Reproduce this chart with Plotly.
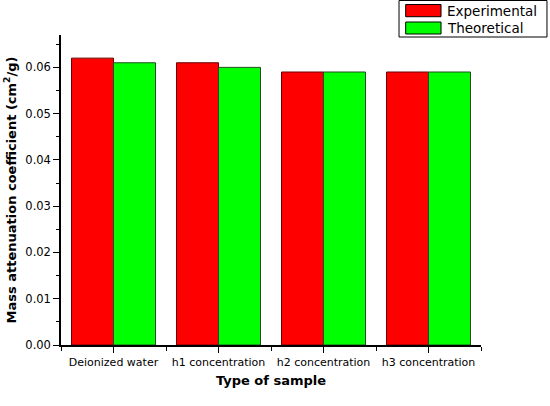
import plotly.graph_objects as go

categories = ["Deionized water", "h1 concentration", "h2 concentration", "h3 concentration"]
experimental = [0.062, 0.061, 0.059, 0.059]
theoretical = [0.061, 0.060, 0.059, 0.059]
series_names = ["Experimental", "Theoretical"]
series_colors = ["#ff0000", "#00ff00"]
series_edges = ["#6a0000", "#1f4f1f"]
y_ticks = [0.00, 0.01, 0.02, 0.03, 0.04, 0.05, 0.06]
y_labels = ["0.00", "0.01", "0.02", "0.03", "0.04", "0.05", "0.06"]

xpos = list(range(len(categories)))
boundaries = [i - 0.5 for i in range(len(categories) + 1)]

fig = go.Figure()
for name, vals, col, edge in zip(series_names, [experimental, theoretical], series_colors, series_edges):
    fig.add_trace(go.Bar(x=xpos, y=vals, name=name, showlegend=False,
                         marker=dict(color=col, line=dict(color=edge, width=1))))

font_family = "DejaVu Sans"

# Manual legend (box with wide swatches), in paper coordinates
shapes = [dict(type="rect", xref="paper", yref="paper", x0=0.8048, x1=1.1571, y0=0.9935, y1=1.1113,
               line=dict(color="black", width=1), fillcolor="white", layer="above")]
annotations = []
sw_rows = [(1.0984, 1.0590, 1.0790), (1.0419, 1.0032, 1.0226)]
for (ytop, ybot, ytxt), name, col in zip(sw_rows, series_names, series_colors):
    shapes.append(dict(type="rect", xref="paper", yref="paper", x0=0.8207, x1=0.9048, y0=ybot, y1=ytop,
                       line=dict(color="black", width=1), fillcolor=col, layer="above"))
    annotations.append(dict(xref="paper", yref="paper", x=0.9145, y=ytxt, xanchor="left", yanchor="middle",
                            text=name, showarrow=False, font=dict(size=13.5, family=font_family, color="black")))

fig.update_layout(
    width=550, height=406,
    margin=dict(l=61, r=69, t=35, b=61, autoexpand=False),
    paper_bgcolor="white", plot_bgcolor="white",
    barmode="group", bargap=0.2, bargroupgap=0,
    font=dict(family=font_family, size=11, color="black"),
    showlegend=False,
    shapes=shapes, annotations=annotations,
    xaxis=dict(
        range=[-0.5, 3.5], tickmode="array", tickvals=xpos, ticktext=categories,
        showline=True, linecolor="black", linewidth=1.5, showgrid=False, zeroline=False,
        ticks="outside", ticklen=6, tickcolor="black",
        minor=dict(tickmode="array", tickvals=boundaries, ticks="outside", ticklen=4, tickcolor="black"),
        title=dict(text="<b>Type of sample</b>", font=dict(size=13), standoff=8),
        tickfont=dict(size=11),
    ),
    yaxis=dict(
        range=[0, 0.067], tickmode="array", tickvals=y_ticks, ticktext=y_labels,
        showline=True, linecolor="black", linewidth=1.5, showgrid=False, zeroline=False,
        ticks="outside", ticklen=6, tickcolor="black",
        minor=dict(tickmode="linear", tick0=0.005, dtick=0.01, ticks="outside", ticklen=3, tickcolor="black"),
        title=dict(text="<b>Mass attenuation coefficient (cm<sup>2</sup>/g)</b>", font=dict(size=13), standoff=6),
        tickfont=dict(size=11.5),
    ),
)

fig.write_html("out.html")
